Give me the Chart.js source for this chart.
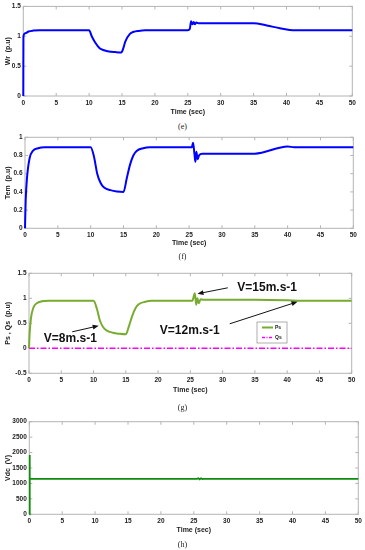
<!DOCTYPE html>
<html>
<head>
<meta charset="utf-8">
<script src="https://cdn.jsdelivr.net/npm/chart.js@4.4.1/dist/chart.umd.min.js"></script>
<style>
  body { margin: 0; background: #fff; width: 365px; height: 550px; position: relative; overflow: hidden; }
  .pane { position: absolute; left: 0; width: 365px; }
  .cap { position: absolute; left: 0; width: 365px; text-align: center; font-family: "Liberation Serif", "DejaVu Serif", serif; font-size: 8px; color: #222; }
</style>
</head>
<body>
<div class="pane" style="top:0;height:120px"><canvas id="c1"></canvas></div>
<div class="cap" style="top:122px">(e)</div>
<div class="pane" style="top:130px;height:125px"><canvas id="c2"></canvas></div>
<div class="cap" style="top:252px">(f)</div>
<div class="pane" style="top:265px;height:135px"><canvas id="c3"></canvas></div>
<div class="cap" style="top:403px">(g)</div>
<div class="pane" style="top:412px;height:125px"><canvas id="c4"></canvas></div>
<div class="cap" style="top:540px">(h)</div>

<script>
// rotor speed (e)
const tWr = [0, 0.02, 0.3, 0.8, 1.5, 2.5, 10, 10.4, 10.9, 11.6, 12.3, 13, 14, 14.9, 15.2, 15.5, 16.2, 16.8, 17.5, 18.5, 25, 25.3, 25.5, 25.7, 25.9, 26.1, 26.3, 26.6, 35, 37, 39, 40.5, 41.5, 50];
const wr  = [0, 1.0, 1.05, 1.08, 1.095, 1.1, 1.1, 1.0, 0.9, 0.8, 0.765, 0.745, 0.735, 0.73, 0.8, 0.91, 1.04, 1.075, 1.09, 1.1, 1.1, 1.12, 1.25, 1.2, 1.24, 1.2, 1.23, 1.22, 1.22, 1.18, 1.135, 1.105, 1.1, 1.1];

// electromagnetic torque (f)
const tTem = [0, 0.1, 0.3, 0.7, 1.2, 2, 3, 10, 10.5, 11, 11.5, 12, 13, 14, 15, 15.5, 16, 16.5, 17, 18, 19, 25.4, 25.6, 25.8, 25.95, 26.1, 26.3, 26.5, 27, 35, 40, 41, 50];
const tem  = [0, 0.3, 0.55, 0.77, 0.85, 0.88, 0.89, 0.89, 0.79, 0.6, 0.5, 0.45, 0.42, 0.405, 0.4, 0.55, 0.7, 0.8, 0.85, 0.88, 0.89, 0.89, 0.94, 0.82, 0.73, 0.84, 0.76, 0.8, 0.82, 0.82, 0.9, 0.89, 0.89];

// stator powers (g)
const tPs = [0, 0.1, 0.3, 0.7, 1.2, 2, 3, 10, 10.5, 11, 11.5, 12, 13, 14, 15, 15.5, 16, 16.5, 17, 18, 19, 25.3, 25.7, 25.9, 26.1, 26.3, 26.6, 27, 35, 40, 42, 50];
const ps  = [0, 0.3, 0.6, 0.82, 0.9, 0.94, 0.95, 0.95, 0.8, 0.55, 0.42, 0.36, 0.31, 0.29, 0.28, 0.45, 0.65, 0.8, 0.88, 0.93, 0.95, 0.95, 1.1, 0.87, 1.0, 0.9, 0.98, 0.97, 0.97, 0.96, 0.95, 0.95];
const tQs = [0, 50];
const qs  = [0, 0];

// DC bus voltage (h)
const tVdc = [0, 0.03, 0.1, 25.5, 25.7, 25.9, 26.1, 26.3, 26.5, 50];
const vdc  = [0, 1920, 1150, 1150, 1170, 1135, 1165, 1140, 1150, 1150];

const xTicks = { min: 0, max: 50, step: 5 };

const FONT = '"Liberation Sans", Arial, sans-serif';
const FRAME = '#b4b4b4';
const LABEL = '#222';

function pts(xs, ys) {
  return xs.map((x, i) => ({ x: x, y: ys[i] }));
}

// MATLAB style box with inward ticks, drawn under the curves
const frame = {
  id: 'frame',
  beforeDatasetsDraw(chart) {
    const { ctx, chartArea: a, scales } = chart;
    ctx.save();
    ctx.strokeStyle = FRAME;
    ctx.lineWidth = 1;
    ctx.strokeRect(a.left, a.top, a.right - a.left, a.bottom - a.top);
    ctx.beginPath();
    scales.x.ticks.forEach(t => {
      const px = scales.x.getPixelForValue(t.value);
      ctx.moveTo(px, a.bottom); ctx.lineTo(px, a.bottom - 3);
      ctx.moveTo(px, a.top); ctx.lineTo(px, a.top + 3);
    });
    scales.y.ticks.forEach(t => {
      const py = scales.y.getPixelForValue(t.value);
      ctx.moveTo(a.left, py); ctx.lineTo(a.left + 3, py);
      ctx.moveTo(a.right, py); ctx.lineTo(a.right - 3, py);
    });
    ctx.stroke();
    ctx.restore();
  }
};

function makeChart(id, pane, plot, titleY, yOpts, datasets, extra) {
  const lh = 8.4;
  const xH = titleY - plot.b + lh / 2;
  return new Chart(document.getElementById(id), {
    type: 'line',
    data: { datasets: datasets },
    options: {
      responsive: true,
      maintainAspectRatio: false,
      animation: false,
      events: [],
      layout: {
        padding: {
          top: plot.t - pane.top,
          right: 365 - plot.r,
          bottom: pane.top + pane.h - (plot.b + xH),
          left: 0
        }
      },
      elements: { point: { radius: 0 }, line: { cubicInterpolationMode: 'monotone' } },
      plugins: { legend: { display: false }, tooltip: { enabled: false } },
      scales: {
        x: {
          type: 'linear',
          min: xTicks.min, max: xTicks.max,
          grid: { display: false, drawTicks: false },
          border: { display: false },
          ticks: { stepSize: xTicks.step, padding: 3, color: LABEL, font: { family: FONT, size: 6.5, weight: 'bold' }, maxRotation: 0 },
          title: { display: true, text: 'Time (sec)', color: LABEL, font: { family: FONT, size: 7, weight: 'bold' }, padding: 0 },
          afterFit(s) { s.height = xH; }
        },
        y: {
          min: yOpts.min, max: yOpts.max,
          grid: { display: false, drawTicks: false },
          border: { display: false },
          ticks: {
            stepSize: yOpts.step, padding: 2.5, color: LABEL,
            font: { family: FONT, size: 6.5, weight: 'bold' },
            callback: v => String(+v.toFixed(2))
          },
          title: { display: true, text: yOpts.title, color: LABEL, font: { family: FONT, size: 7, weight: 'bold' }, padding: { top: 4, bottom: 0 } },
          afterFit(s) { s.width = plot.l; }
        }
      }
    },
    plugins: [frame].concat(extra || [])
  });
}

// annotations and legend for (g)
const notes = [
  { text: 'V=8m.s-1', tx: 6.4, ty: 0.2, from: [6.7, 0.33], to: [10.8, 0.45] },
  { text: 'V=15m.s-1', tx: 36.9, ty: 1.21, from: [30.8, 1.21], to: [26.1, 1.09] },
  { text: 'V=12m.s-1', tx: 24.9, ty: 0.35, from: [31.1, 0.49], to: [41.6, 0.93] }
];

const notesPlugin = {
  id: 'notes',
  afterDatasetsDraw(chart) {
    const { ctx, scales: { x, y } } = chart;
    ctx.save();
    ctx.fillStyle = '#111';
    ctx.strokeStyle = '#111';
    ctx.font = 'bold 12px ' + FONT;
    ctx.textAlign = 'center';
    ctx.textBaseline = 'middle';
    notes.forEach(n => {
      ctx.fillText(n.text, x.getPixelForValue(n.tx), y.getPixelForValue(n.ty));
      const x0 = x.getPixelForValue(n.from[0]), y0 = y.getPixelForValue(n.from[1]);
      const x1 = x.getPixelForValue(n.to[0]), y1 = y.getPixelForValue(n.to[1]);
      const ang = Math.atan2(y1 - y0, x1 - x0);
      ctx.lineWidth = 1;
      ctx.beginPath();
      ctx.moveTo(x0, y0);
      ctx.lineTo(x1 - 4 * Math.cos(ang), y1 - 4 * Math.sin(ang));
      ctx.stroke();
      ctx.beginPath();
      ctx.moveTo(x1, y1);
      ctx.lineTo(x1 - 6 * Math.cos(ang) + 2.5 * Math.sin(ang), y1 - 6 * Math.sin(ang) - 2.5 * Math.cos(ang));
      ctx.lineTo(x1 - 6 * Math.cos(ang) - 2.5 * Math.sin(ang), y1 - 6 * Math.sin(ang) + 2.5 * Math.cos(ang));
      ctx.closePath();
      ctx.fill();
    });

    // legend box
    const bx = 257, by = 57, bw = 30, bh = 21;
    ctx.fillStyle = '#fff';
    ctx.fillRect(bx, by, bw, bh);
    ctx.strokeStyle = '#999';
    ctx.lineWidth = 0.8;
    ctx.strokeRect(bx, by, bw, bh);
    ctx.lineWidth = 2;
    ctx.strokeStyle = '#77ac30';
    ctx.beginPath(); ctx.moveTo(bx + 5, by + 5.5); ctx.lineTo(bx + 16, by + 5.5); ctx.stroke();
    ctx.strokeStyle = '#ff00ff';
    ctx.lineWidth = 1.5;
    ctx.setLineDash([3, 1.5, 1, 1.5]);
    ctx.beginPath(); ctx.moveTo(bx + 5, by + 15.5); ctx.lineTo(bx + 16, by + 15.5); ctx.stroke();
    ctx.setLineDash([]);
    ctx.fillStyle = '#222';
    ctx.font = 'bold 5px ' + FONT;
    ctx.textAlign = 'left';
    ctx.fillText('Ps', bx + 18, by + 5.5);
    ctx.fillText('Qs', bx + 18, by + 15.5);
    ctx.restore();
  }
};

makeChart('c1', { top: 0, h: 120 }, { l: 23.3, t: 6, r: 352.3, b: 96 }, 112,
  { min: 0, max: 1.5, step: 0.5, title: 'Wr  (p.u)' },
  [{ data: pts(tWr, wr), borderColor: '#0000ff', borderWidth: 2, clip: 4 }]);

makeChart('c2', { top: 130, h: 125 }, { l: 25, t: 137.3, r: 353.3, b: 228.3 }, 243,
  { min: 0, max: 1, step: 0.2, title: 'Tem  (p.u)' },
  [{ data: pts(tTem, tem), borderColor: '#0000ff', borderWidth: 2, clip: 4 }]);

makeChart('c3', { top: 265, h: 135 }, { l: 29, t: 273.3, r: 351.7, b: 373.3 }, 390,
  { min: -0.5, max: 1.5, step: 0.5, title: 'Ps , Qs  (p.u)' },
  [
    { data: pts(tPs, ps), borderColor: '#77ac30', borderWidth: 2, clip: 4 },
    { data: pts(tQs, qs), borderColor: '#ff00ff', borderWidth: 1.5, borderDash: [6, 2, 1.5, 2] }
  ], [notesPlugin]);

makeChart('c4', { top: 412, h: 125 }, { l: 29.3, t: 421.7, r: 358.3, b: 514.3 }, 530,
  { min: 0, max: 3000, step: 500, title: 'Vdc  (V)' },
  [{ data: pts(tVdc, vdc), borderColor: '#0e8c0e', borderWidth: 1.8, cubicInterpolationMode: 'default', tension: 0, clip: 4 }]);
</script>
</body>
</html>
